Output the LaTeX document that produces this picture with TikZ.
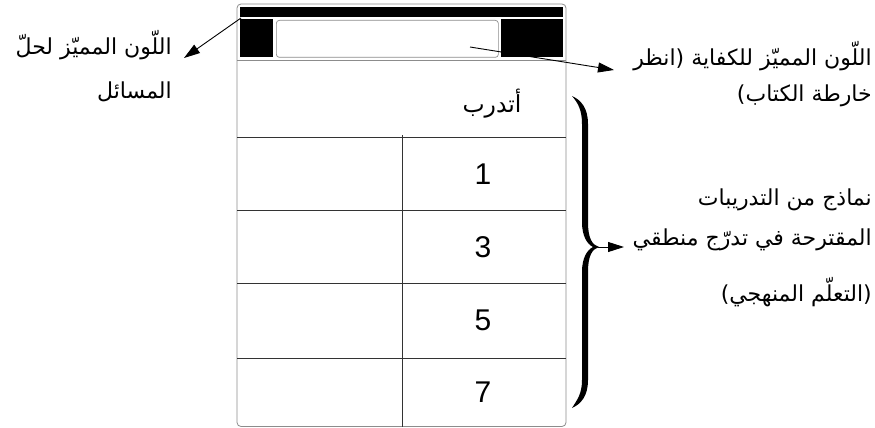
\documentclass[tikz,border=0pt]{standalone}
\usepackage{fontspec}
\setmainfont{Liberation Sans}
\newfontfamily\arabicfont[Script=Arabic]{DejaVu Sans}
\TeXXeTstate=1
\usetikzlibrary{arrows.meta}
\tikzset{
  arlabel/.style={font=\arabicfont\fontsize{22}{26}\selectfont, anchor=east, inner sep=0pt},
  num/.style={font=\fontsize{30}{36}\selectfont, inner sep=0pt},
  frameline/.style={draw=black!45, line width=0.8pt},
  rowline/.style={draw=black!80, line width=0.9pt},
  blk/.style={fill=black, draw=none, anchor=north west, inner sep=0pt, outer sep=0pt},
  pointer/.style={line width=0.9pt, -{Triangle[length=16pt,width=10pt]}},
}
\begin{document}
\begin{tikzpicture}[x=1pt,y=-1pt]
\useasboundingbox (0,0) rectangle (875,428);
% outer frame
\draw[frameline, rounded corners=4pt] (237,4) rectangle (566,426.5);
\draw[frameline] (237,60) -- (566,60);
% black band
\node[blk, minimum width=323pt, minimum height=10.5pt] (topbar) at (240,7) {};
\node[blk, minimum width=33pt, minimum height=38pt] (lblock) at (240,19) {};
\node[blk, minimum width=62pt, minimum height=38pt] (rblock) at (501,19) {};
\node[draw=black!45, fill=white, rounded corners=3pt, anchor=north west, inner sep=0pt,
      minimum width=222pt, minimum height=37pt, line width=0.7pt] (slot) at (276,20) {};
% rows
\draw[rowline] (237,137) -- (566,137);
\draw[rowline] (237,210) -- (566,210);
\draw[rowline] (237,283) -- (566,283);
\draw[rowline] (237,358) -- (566,358);
\draw[rowline] (402,135) -- (402,427);
% texts in table
\node[font=\arabicfont\fontsize{23.5}{28}\selectfont, inner sep=0pt] (head) at (492,104) {\beginR أتدرب\endR};
\node[num] (n1) at (483,174) {1};
\node[num] (n3) at (483,247) {3};
\node[num] (n5) at (483,320) {5};
\node[num] (n7) at (483,392) {7};
% left label
\node[arlabel] (la1) at (172,45) {\beginR اللّون المميّز لحلّ\endR};
\node[arlabel] (la2) at (172,92) {\beginR المسائل\endR};
% right label 1
\node[arlabel] (ra1) at (872,56) {\beginR اللّون المميّز للكفاية (انظر\endR};
\node[arlabel] (ra2) at (872,96) {\beginR خارطة الكتاب)\endR};
% right label 2
\node[arlabel] (rb1) at (872,200) {\beginR نماذج من التدريبات\endR};
\node[arlabel] (rb2) at (872,240) {\beginR المقترحة في تدرّج منطقي\endR};
\node[arlabel] (rb3) at (872,292) {\beginR (التعلّم المنهجي)\endR};
% arrows
\coordinate (lstart) at (241,18);
\coordinate (ltip) at (184,58);
\draw[pointer] (lstart) -- (ltip);
\coordinate (rstart) at (470,47);
\coordinate (rtip) at (614,70);
\draw[pointer] (rstart) -- (rtip);
% brace (filled, tapered)
\fill (572,96)
  .. controls (581,100) and (588,108) .. (588,124)
  -- (588,222)
  .. controls (588,238) and (592,245) .. (599,247)
  .. controls (592,249) and (588,256) .. (588,272)
  -- (588,380)
  .. controls (588,396) and (581,404) .. (572,408)
  .. controls (577,400) and (582,394) .. (582,380)
  -- (582,272)
  .. controls (582,258) and (587,250) .. (593,247)
  .. controls (587,244) and (582,236) .. (582,222)
  -- (582,124)
  .. controls (582,110) and (578,103) .. (572,96) -- cycle;
\coordinate (bmid) at (598,247);
\coordinate (btip) at (624,247);
\draw[pointer] (bmid) -- (btip);
\end{tikzpicture}
\end{document}
